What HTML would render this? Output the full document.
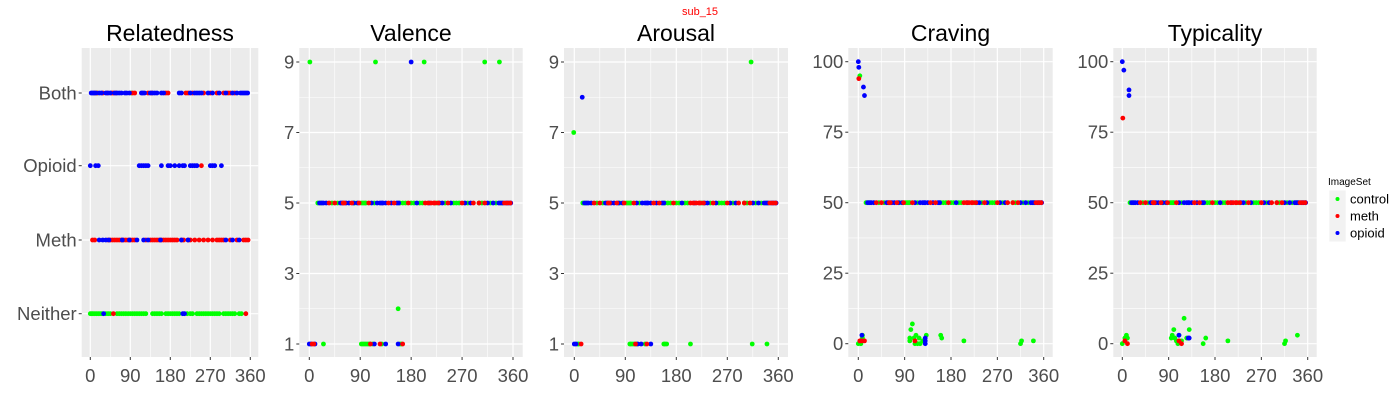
<!DOCTYPE html>
<html><head><meta charset="utf-8"><style>
body{margin:0;background:#fff;}
svg{display:block;font-family:"Liberation Sans",Arial,sans-serif;}
</style></head><body>
<svg id="chart" width="1400" height="400"></svg>
<script>
// ---- data ----
const relCategories = ['Both','Opioid','Meth','Neither'];
const relBothBlue = [2,5,8,12,20,25,35,40,45,55,60,65,70,78,82,88,115,118,122,135,140,145,150,160,165,200,205,225,235,240,245,250,265,275,290,305,320,330,338,342,346,350,354];
const relBothRed = [10,15,28,38,48,52,58,95,100,130,138,170,175,215,220,230,255,270,285,300,310,315,325];
const relBothGreen = [15,92];
const relOpioidBlue = [0,12,18,110,115,120,125,130,160,175,180,190,200,208,212,225,230,235,240,270,275,280,295];
const relOpioidRed = [250];
const relMethRed = [5,10,40,45,50,55,60,65,70,75,80,85,90,95,100,125,135,140,145,150,155,160,165,170,175,180,185,190,195,205,210,220,225,235,245,255,265,275,285,290,295,300,315,330,345,350,355];
const relMethBlue = [20,28,35,42,72,88,105,120,130,158,205,220,305,320,335];
const relNeitherGreen = [0,3,6,10,14,18,22,26,35,40,45,60,65,70,75,80,85,90,95,100,105,110,115,120,125,140,145,150,155,160,170,175,180,185,190,195,200,218,225,230,240,245,250,255,260,265,270,275,280,285,290,300,305,310,315,320,325,335,340];
const relNeitherBlue = [30,208,212];
const relNeitherRed = [52,350];

const midGreenX = [15,20,40,50,80,92,95,98,100,115,160,165,170,180,185,195,200,225,240,255,260,265,280,300,305,320,330,340];
const midRedX = [35,45,60,62,75,88,105,140,150,175,205,210,215,220,222,228,245,270,290,300,310,345,350,355];
const midBlueX = [18,22,25,30,55,58,65,70,78,85,110,120,125,128,130,135,145,155,158,190,212,230,235,250,275,285,315,325,335,338,342,348,352,356];

const valGreen = [[1,9],[117,9],[203,9],[310,9],[336,9],[157,2],[25,1],[92,1],[95,1],[98,1],[101,1],[104,1],[107,1],[112,1],[128,1],[160,1],[163,1]];
const valBlue = [[180,9],[0,1],[3,1],[10,1],[115,1],[135,1],[157,1]];
const valRed = [[5,1],[8,1],[108,1],[125,1],[165,1]];

const aroGreen = [[-1,7],[6,1],[8,1],[312,9],[98,1],[100,1],[103,1],[106,1],[110,1],[125,1],[158,1],[160,1],[163,1],[205,1],[314,1],[340,1]];
const aroBlue = [[14,8],[0,1],[3,1],[112,1],[118,1],[135,1]];
const aroRed = [[12,1],[108,1],[128,1]];

const cravGreen = [[3,95],[0,0],[5,0],[8,2],[8,3],[100,2],[100,1],[102,5],[105,7],[108,2],[110,0],[112,3],[115,0],[118,2],[120,0],[125,1],[132,3],[160,3],[162,2],[205,1],[315,0],[317,1],[340,1]];
const cravBlue = [[0,100],[1,98],[10,91],[12,88],[7,3],[130,2],[130,0],[130,1]];
const cravRed = [[1,94],[3,1],[7,1],[12,1],[110,1]];

const typGreen = [[0,0],[5,2],[8,3],[10,2],[95,2],[97,3],[100,5],[102,2],[105,1],[108,0],[110,3],[120,9],[115,1],[125,2],[130,5],[157,0],[162,2],[205,1],[315,0],[317,1],[340,3]];
const typBlue = [[0,100],[3,97],[13,90],[13,88],[110,3],[130,2],[128,2]];
const typRed = [[1,80],[5,1],[10,0],[115,0],[110,1]];

const xTicks = [0,90,180,270,360];
const scaleTicks9 = [1,3,5,7,9];
const scaleTicks100 = [0,25,50,75,100];
const legendLabels = ['control','meth','opioid'];
const COLORS = {control:'#00FF00', meth:'#FF0000', opioid:'#0000FF'};

// ---- drawing ----
const NS = 'http://www.w3.org/2000/svg';
const svg = document.getElementById('chart');
function mk(tag, attrs, parent){const e=document.createElementNS(NS,tag);for(const k in attrs)e.setAttribute(k,attrs[k]);(parent||svg).appendChild(e);return e;}

function panel(cfg){
  const g = mk('g',{});
  
  
  const top=48,bottom=357;
  const bg = mk('rect',{x:cfg.left,y:top,width:cfg.right-cfg.left,height:bottom-top,fill:'#EBEBEB'},g);
  
  
  const sx = v => cfg.x0 + (v/360)*(cfg.x360-cfg.x0);
  const sy = cfg.sy;
  for(let i=0;i<xTicks.length-1;i++){const xm=sx((xTicks[i]+xTicks[i+1])/2);mk('line',{x1:xm,x2:xm,y1:top,y2:bottom,stroke:'#fff','stroke-width':0.6},g);}
  (cfg.minorY||[]).forEach(v=>{const y=sy(v);mk('line',{x1:cfg.left,x2:cfg.right,y1:y,y2:y,stroke:'#fff','stroke-width':0.6},g);});
  xTicks.forEach(v=>{const x=sx(v);
    mk('line',{x1:x,x2:x,y1:top,y2:bottom,stroke:'#fff','stroke-width':1.2},g);
    mk('line',{x1:x,x2:x,y1:bottom,y2:bottom+3,stroke:'#333','stroke-width':1},g);
    const t=mk('text',{x:x,y:382,'text-anchor':'middle','font-size':18.5,fill:'#4D4D4D'},g);t.textContent=v;
    
    
  });
  cfg.yTicks.forEach((v,i)=>{const y=sy(v);
    mk('line',{x1:cfg.left,x2:cfg.right,y1:y,y2:y,stroke:'#fff','stroke-width':1.2},g);
    mk('line',{x1:cfg.left-3,x2:cfg.left,y1:y,y2:y,stroke:'#333','stroke-width':1},g);
    const t=mk('text',{x:cfg.left-5,y:y+6.5,'text-anchor':'end','font-size':18.5,fill:'#4D4D4D'},g);t.textContent=cfg.yLabels?cfg.yLabels[i]:v;
    
    
  });
  const title=mk('text',{x:(cfg.left+cfg.right)/2,y:41,'text-anchor':'middle','font-size':23,fill:'#000'},g);
  title.textContent=cfg.title;
  
  
  cfg.series.forEach(s=>{
    s.pts.forEach(p=>{
      const c=mk('circle',{cx:sx(p[0]),cy:sy(p[1]),r:2.4,fill:COLORS[s.set]},g);
      
      
    });
  });
}
const pairs = (xs,y)=>xs.map(x=>[x,y]);
const relY = {Both:93,Opioid:165.7,Meth:240,Neither:313.7};
const sy9 = v => 344 - (v-1)/8*(344-62);
const sy100 = v => 343.7 - v/100*(343.7-61.7);

panel({name:'relatedness',title:'Relatedness',left:81.7,right:258.3,x0:90.3,x360:250.3,
  sy:v=>relY[relCategories[v]], yTicks:[0,1,2,3], yLabels:relCategories,
  series:[
    {set:'control',pts:pairs(relNeitherGreen,3).concat(pairs(relBothGreen,0))},
    {set:'meth',pts:pairs(relMethRed,2).concat(pairs(relBothRed,0),pairs(relOpioidRed,1),pairs(relNeitherRed,3))},
    {set:'opioid',pts:pairs(relBothBlue,0).concat(pairs(relOpioidBlue,1),pairs(relMethBlue,2),pairs(relNeitherBlue,3))}
  ]});
panel({name:'valence',title:'Valence',left:299.3,right:522.7,x0:309.3,x360:513,
  sy:sy9,yTicks:scaleTicks9,minorY:[2,4,6,8],
  series:[
    {set:'control',pts:pairs(midGreenX,5).concat(valGreen)},
    {set:'opioid',pts:pairs(midBlueX,5).concat(valBlue)},
    {set:'meth',pts:pairs(midRedX,5).concat(valRed)}
  ]});
panel({name:'arousal',title:'Arousal',left:564,right:788,x0:574.3,x360:778.3,
  sy:sy9,yTicks:scaleTicks9,minorY:[2,4,6,8],
  series:[
    {set:'control',pts:pairs(midGreenX,5).concat(aroGreen)},
    {set:'opioid',pts:pairs(midBlueX,5).concat(aroBlue)},
    {set:'meth',pts:pairs(midRedX,5).concat(aroRed)}
  ]});
panel({name:'craving',title:'Craving',left:848.3,right:1052.7,x0:858.3,x360:1043.7,
  sy:sy100,yTicks:scaleTicks100,minorY:[12.5,37.5,62.5,87.5],
  series:[
    {set:'control',pts:pairs(midGreenX,50).concat(cravGreen)},
    {set:'opioid',pts:pairs(midBlueX,50).concat(cravBlue)},
    {set:'meth',pts:pairs(midRedX,50).concat(cravRed)}
  ]});
panel({name:'typicality',title:'Typicality',left:1113.3,right:1316.7,x0:1122.3,x360:1307.7,
  sy:sy100,yTicks:scaleTicks100,minorY:[12.5,37.5,62.5,87.5],
  series:[
    {set:'control',pts:pairs(midGreenX,50).concat(typGreen)},
    {set:'opioid',pts:pairs(midBlueX,50).concat(typBlue)},
    {set:'meth',pts:pairs(midRedX,50).concat(typRed)}
  ]});

const sup=mk('text',{x:700,y:15,'text-anchor':'middle','font-size':11,fill:'#FF0000'});
sup.textContent='sub_15';



const lg=mk('g',{});


const lt=mk('text',{x:1328,y:185,'font-size':10,fill:'#000'},lg);
lt.textContent='ImageSet';


legendLabels.forEach((lab,i)=>{
  const cy=199+i*17;
  const e=mk('g',{},lg);
  
  
  mk('rect',{x:1329.3,y:cy-8.5,width:16.4,height:17,fill:'#F2F2F2'},e);
  mk('circle',{cx:1337.5,cy:cy,r:2,fill:COLORS[lab]},e);
  const t=mk('text',{x:1350,y:cy+4.5,'font-size':13,fill:'#000'},e);
  t.textContent=lab;
});
</script>
</body></html>
